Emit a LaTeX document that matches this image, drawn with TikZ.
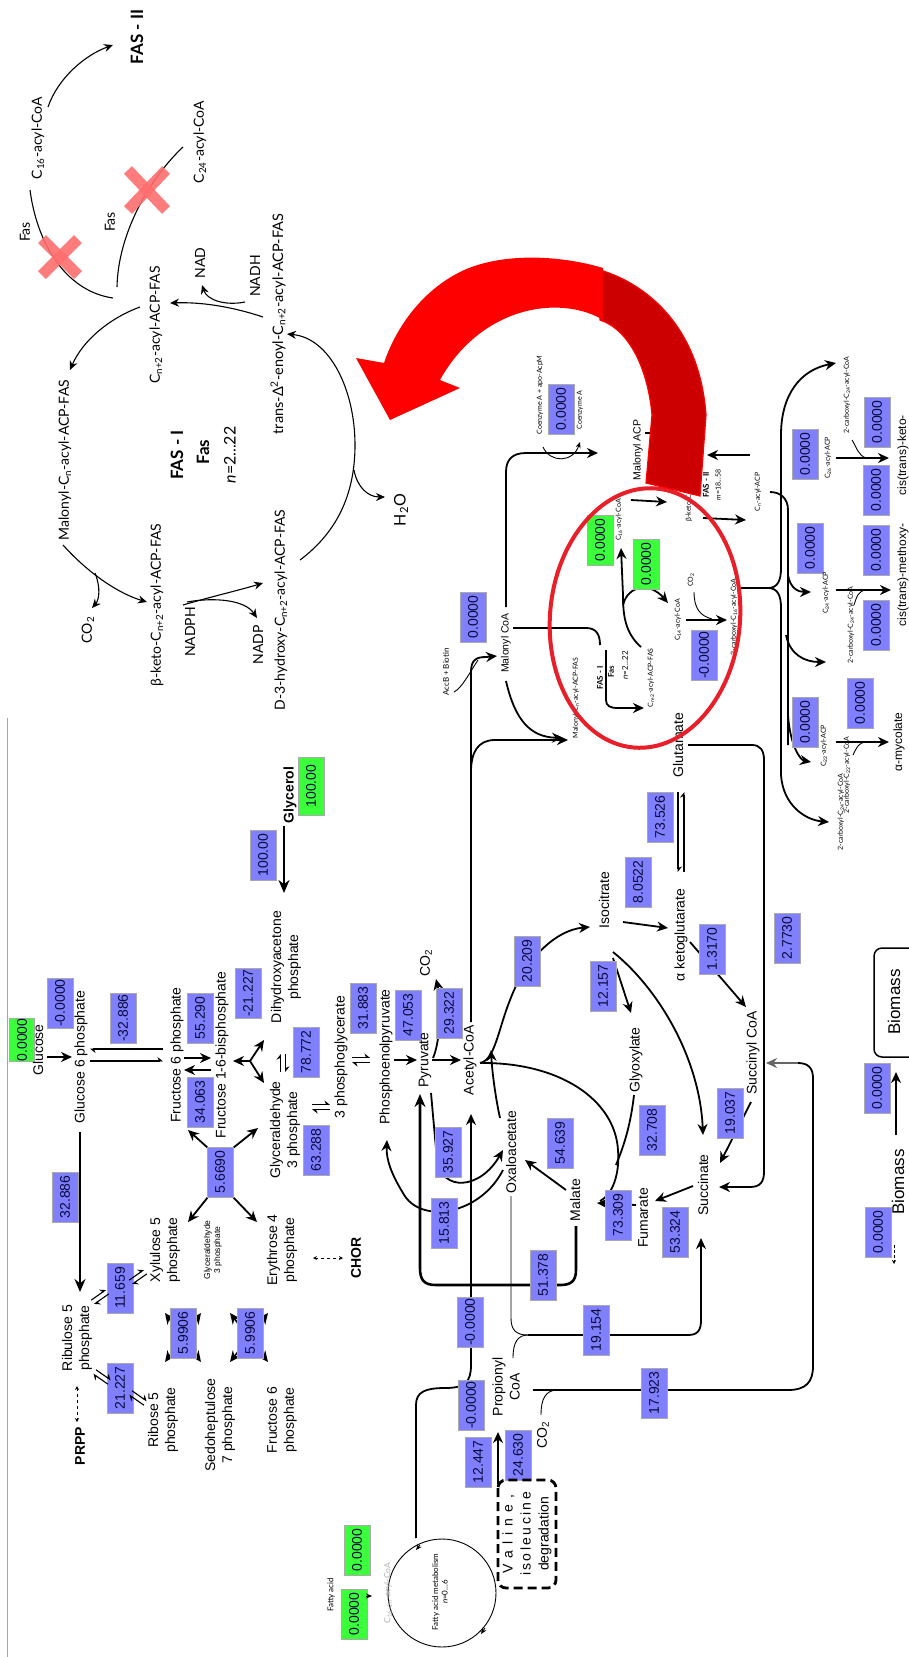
\documentclass[tikz,border=0pt]{standalone}
\usepackage{fontspec}
\setmainfont{Liberation Sans}
\newfontfamily\fasfont{Lato}
\usetikzlibrary{arrows.meta}
\definecolor{boxblue}{RGB}{128,128,255}
\definecolor{boxgreen}{RGB}{60,255,60}
\definecolor{boxedge}{RGB}{170,170,170}
\definecolor{numtxt}{RGB}{10,10,60}
\definecolor{xred}{RGB}{255,110,110}
\definecolor{ellred}{RGB}{232,30,40}
\definecolor{arrred}{RGB}{255,0,0}
\definecolor{arrdark}{RGB}{204,0,0}
\newcommand{\fsz}[2]{\fontsize{#1}{#2}\selectfont}
\pgfdeclarelayer{back}\pgfdeclarelayer{front}
\pgfsetlayers{back,main,front}
\newcommand{\eqv}[3]{\begin{scope}[shift={(#1,#2)},rotate=#3]
 \draw[hp] (-9,-2.5) -- (9,-2.5); \draw[hp] (9,2.5) -- (-9,2.5); \end{scope}}
\begin{document}
\begin{tikzpicture}[x=1pt,y=-1pt,
 lbl/.style={rotate=90,inner sep=0pt,align=center,font=\fsz{14}{17}},
 fas/.style={rotate=90,inner sep=0pt,align=center,font=\fasfont\fsz{14}{17}},
 sm/.style={rotate=90,inner sep=0pt,align=center,font=\fasfont\fsz{7}{8}},
 num/.style={rotate=90,draw=boxedge,fill=boxblue,line width=0.8pt,inner sep=0pt,minimum width=50pt,minimum height=26pt,font=\fsz{14}{16},text=numtxt},
 grn/.style={num,fill=boxgreen},
 fl/.style={line width=1.1pt},
 fa/.style={fl,-{Stealth[length=9pt,width=8pt]}},
 ml/.style={line width=1.8pt},
 ma/.style={ml,-{Stealth[length=11pt,width=10pt]}},
 tl/.style={line width=2.6pt},
 ta/.style={tl,-{Stealth[length=13pt,width=11pt]}},
 sl/.style={line width=0.9pt},
 sa/.style={sl,-{Stealth[length=6pt,width=5pt]}},
 hp/.style={line width=1.1pt,-{Stealth[harpoon,length=5pt,width=8pt]}},
 xa/.style={line width=1.6pt,{Stealth[length=11pt,width=10pt]}-{Stealth[length=11pt,width=10pt]}},
 xmark/.style={xred,line width=11pt,opacity=0.9},
]
\useasboundingbox (0,0) rectangle (909,1657);
\begin{pgfonlayer}{back}
\fill[white] (0,0) rectangle (909,1657);
\end{pgfonlayer}

% ===== FAS cycle labels =====
\node[fas,font=\fasfont\bfseries\fsz{17}{20}] (fas2) at (137,37) {FAS - II};
\node[fas] (c16) at (38,138) {C\textsubscript{16}-acyl-CoA};
\node[fas] (c24) at (200,142) {C\textsubscript{24}-acyl-CoA};
\node[fas] (fasa) at (25,232) {Fas};
\node[fas] (fasb) at (110,222) {Fas};
\node[fas] (cn2) at (156,325) {C\textsubscript{n+2}-acyl-ACP-FAS};
\node[fas] (nad) at (200,263) {NAD};
\node[fas] (nadh) at (255,276) {NADH};
\node[fas,font=\fasfont\fsz{14.5}{17}] (trans) at (278,324) {trans-Δ\textsuperscript{2}-enoyl-C\textsubscript{n+2}-acyl-ACP-FAS};
\node[fas] (malfas) at (65,460) {Malonyl-C\textsubscript{n}-acyl-ACP-FAS};
\node[fas,font=\fasfont\bfseries\fsz{17}{20}] (fas1t) at (177,455) {FAS - I};
\node[fas,font=\fasfont\bfseries\fsz{17}{20}] (fas1f) at (203,452) {Fas};
\node[fas,font=\fasfont\fsz{16}{19}] (fas1n) at (230,455) {\textit{n}=2...22};
\node[fas] (co2a) at (88,630) {CO\textsubscript{2}};
\node[fas] (bketo) at (157,605) {β-keto-C\textsubscript{n+2}-acyl-ACP-FAS};
\node[fas] (nadph) at (190,632) {NADPH};
\node[fas] (nadp) at (258,645) {NADP};
\node[fas] (d3h) at (281,610) {D-3-hydroxy-C\textsubscript{n+2}-acyl-ACP-FAS};
\node[fas,font=\fasfont\fsz{16}{19}] (h2o) at (401,510) {H\textsubscript{2}O};

\begin{pgfonlayer}{back}
\draw[fa] (48,107) .. controls (58,78) and (85,55) .. (113,45);
\draw[fl] (30,190) .. controls (38,250) and (70,292) .. (113,298);
\draw[fl] (183,147) .. controls (148,180) and (118,235) .. (117,287);
\draw[fa] (263,317) .. controls (230,306) and (200,302) .. (170,303);
\draw[fa] (245,302) .. controls (225,306) and (207,300) .. (202,285);
\draw[fa] (140,307) .. controls (110,318) and (83,340) .. (70,370);
\draw[fa] (63,545) .. controls (90,575) and (120,594) .. (147,602);
\draw[fa] (95,573) .. controls (101,588) and (99,600) .. (92,608);
\draw[fa] (183,605) .. controls (210,597) and (240,590) .. (263,583);
\draw[fa] (187,602) .. controls (215,597) and (245,600) .. (257,618);
\draw[fa] (300,560) .. controls (340,530) and (355,490) .. (355,445) .. controls (355,390) and (330,338) .. (287,334);
\draw[fa] (354,470) .. controls (357,487) and (368,497) .. (385,497);
\draw[gray!70,line width=1pt] (7,718) -- (7,1657);
\end{pgfonlayer}
\begin{pgfonlayer}{front}
\draw[xmark] (42,239) -- (78,275); \draw[xmark] (78,239) -- (42,275);
\draw[xmark] (128,170) -- (166,210); \draw[xmark] (166,170) -- (128,210);
\end{pgfonlayer}

% ===== Glycolysis =====
\node[grn,minimum width=42pt,minimum height=25pt] (glcv) at (22,1040) {0.0000};
\node[lbl] (glc) at (38,1050) {Glucose};
\node[lbl] (g6p) at (81,1057) {Glucose 6 phosphate};
\node[num] (v01) at (60,1003) {-0.0000};
\node[num] (v02) at (123,1018) {-32.886};
\node[lbl] (f6p) at (177,1055) {Fructose 6 phosphate};
\node[num] (v03) at (200,1018) {55.290};
\node[num] (v04) at (200,1102) {34.063};
\node[lbl] (fbp) at (222,1055) {Fructose 1-6-bisphosphate};
\node[num] (v05) at (248,993) {-21.227};
\node[lbl] (dhap) at (286,967) {Dihydroxyacetone\\phosphate};
\node[num] (v06) at (263,855) {100.00};
\node[lbl,font=\bfseries\fsz{14}{17}] (glyc) at (290,795) {Glycerol};
\node[grn,minimum width=58pt] (glycv) at (311,786) {100.00};
\node[num] (v07) at (306,1052) {78.772};
\node[lbl] (g3p) at (285,1130) {Glyceraldehyde\\3 phosphate};
\node[num] (v08) at (316,1150) {63.288};
\node[lbl] (pg3) at (341,1057) {3 phosphoglycerate};
\node[num] (v09) at (363,1008) {31.883};
\node[lbl] (pep) at (386,1057) {Phosphoenolpyruvate};
\node[num] (v10) at (408,1015) {47.053};
\node[lbl] (pyr) at (425,1060) {Pyruvate};
\node[num] (v11) at (449,1013) {29.322};
\node[lbl] (co2b) at (426,963) {CO\textsubscript{2}};
\node[lbl] (accoa) at (470,1060) {Acetyl-CoA};
\node[lbl,font=\bfseries\fsz{14}{17}] (chor) at (356,1258) {CHOR};

\begin{pgfonlayer}{back}
\draw[ma] (47,1057) -- (72,1057);
\draw[hp] (163,1049) -- (90,1049);
\draw[hp] (90,1061) -- (163,1061);
\draw[ma] (184,1058) -- (211,1058);
\draw[ma] (211,1070) -- (184,1070);
\draw[ma] (250,1061) -- (233,1061);
\draw[ma] (250,1061) -- (264,1040);
\draw[ma] (250,1061) -- (264,1083);
\draw[ta] (284,826) -- (284,893);
\draw[ma] (394,1060) -- (417,1060);
\draw[ma] (432,1060) -- (461,1060);
\draw[ma] (433,1058) .. controls (441,1040) and (441,1000) .. (436,979);
\draw[sl,dashed,{Stealth[length=4pt,width=4pt]}-{Stealth[length=4pt,width=4pt]}] (313,1258) -- (343,1258);
\end{pgfonlayer}
\eqv{283}{1063}{90}
\eqv{321}{1107}{0}
\eqv{361}{1060}{0}

% ===== PPP =====
\node[lbl] (ru5p) at (77,1338) {Ribulose 5\\phosphate};
\node[lbl,font=\bfseries\fsz{14}{17}] (prpp) at (80,1446) {PRPP};
\node[num] (v12) at (120,1288) {11.659};
\node[num] (v13) at (120,1388) {21.227};
\node[lbl] (xu5p) at (165,1250) {Xylulose 5\\phosphate};
\node[lbl,font=\fsz{8.5}{10}] (g3ps) at (213,1250) {Glyceraldehyde\\3 phosphate};
\node[lbl] (e4p) at (282,1250) {Erythrose 4\\phosphate};
\node[lbl] (r5p) at (163,1420) {Ribose 5\\phosphate};
\node[lbl] (s7p) at (220,1425) {Sedoheptulose\\7 phosphate};
\node[lbl] (f6pb) at (282,1420) {Fructose 6\\phosphate};
\node[num] (v14) at (65,1197) {32.886};
\node[num] (v15) at (220,1172) {5.6690};
\begin{pgfonlayer}{back}
\draw[ta] (80,1132) -- (80,1292);
\draw[sl,dashed,{Stealth[length=4pt,width=4pt]}-{Stealth[length=4pt,width=4pt]}] (77,1386) -- (77,1422);
\draw[xa] (165,1313) -- (201,1362);
\draw[xa] (201,1313) -- (165,1362);
\draw[xa] (230,1313) -- (268,1362);
\draw[xa] (268,1313) -- (230,1362);
\draw[ma] (208,1148) -- (188,1130);
\draw[ma] (233,1148) -- (258,1128);
\draw[ma] (208,1197) -- (188,1222);
\draw[ma] (233,1197) -- (257,1222);
\end{pgfonlayer}
\node[num] (v16) at (183,1333) {5.9906};
\node[num] (v17) at (250,1333) {5.9906};
\eqv{100}{1297}{35}
\eqv{138}{1277}{35}
\eqv{102}{1377}{-35}
\eqv{138}{1398}{-35}

% ===== TCA =====
\node[lbl] (isoc) at (604,900) {Isocitrate};
\node[num] (v18) at (527,961) {20.209};
\node[num] (v19) at (603,986) {12.157};
\node[num] (v20) at (638,882) {8.0522};
\node[lbl] (akg) at (681,935) {α ketoglutarate};
\node[num] (v21) at (712,949) {1.3170};
\node[lbl] (succoa) at (753,1053) {Succinyl CoA};
\node[num] (v22) at (787,938) {2.7730};
\node[lbl] (glyox) at (636,1060) {Glyoxylate};
\node[num] (v23) at (652,1130) {32.708};
\node[num] (v24) at (730,1113) {19.037};
\node[lbl] (succ) at (703,1185) {Succinate};
\node[lbl] (fum) at (643,1218) {Fumarate};
\node[num] (v25) at (618,1215) {73.309};
\node[num] (v26) at (675,1232) {53.324};
\node[lbl] (mal) at (575,1200) {Malate};
\node[num] (v27) at (560,1143) {54.639};
\node[lbl] (oaa) at (511,1152) {Oxaloacetate};
\node[num] (v28) at (448,1152) {35.927};
\node[num] (v29) at (444,1223) {15.813};
\node[num] (v30) at (543,1275) {51.378};
\node[lbl] (glu) at (678,745) {Glutamate};
\node[num] (v31) at (660,817) {73.526};

\begin{pgfonlayer}{back}
\draw[ma] (480,1063) .. controls (495,1060) and (498,1030) .. (510,1000) .. controls (525,960) and (555,930) .. (590,927);
\draw[ma] (500,1118) .. controls (495,1095) and (492,1070) .. (491,1050);
\draw[ma] (623,922) -- (668,928);
\draw[ma] (690,942) -- (746,1007);
\draw[ma] (613,958) -- (631,1013);
\draw[ma] (613,952) .. controls (660,990) and (700,1060) .. (703,1135);
\draw[ma] (751,1102) -- (720,1163);
\draw[ma] (693,1186) -- (655,1201);
\draw[ma] (566,1190) -- (525,1160);
\draw[ma] (636,1205) -- (597,1203);
\draw[ml] (480,1063) .. controls (560,1062) and (615,1100) .. (618,1150) .. controls (620,1175) and (612,1195) .. (600,1201);
\draw[ml] (634,1095) .. controls (630,1130) and (622,1150) .. (616,1165);
\draw[ma] (431,1093) -- (437,1160) .. controls (442,1192) and (480,1190) .. (503,1150);
\draw[ma] (503,1170) .. controls (480,1215) and (420,1225) .. (403,1193) .. controls (392,1175) and (386,1160) .. (387,1140);
% malic enzyme loop
\draw[tl,-{Stealth[length=13pt,width=11pt]}] (576,1226) -- (576,1270) .. controls (576,1282) and (570,1285) .. (560,1285) -- (436,1285) .. controls (424,1285) and (420,1280) .. (420,1268) -- (420,1094);
% glutamate
\draw[hp] (678,792) -- (678,872);
\draw[hp] (684,872) -- (684,792);
\draw[ma] (688,745) -- (752,745) .. controls (760,745) and (764,750) .. (764,760) -- (764,1172) .. controls (764,1182) and (760,1187) .. (750,1187) -- (719,1187);
% line from 17.923 to succinyl CoA
\draw[tl] (533,1390) -- (790,1390);
\draw[ml] (788,1390) .. controls (806,1390) and (813,1382) .. (813,1366) -- (813,1078) .. controls (813,1068) and (808,1063) .. (798,1063);
\draw[ml,gray!80!black,-{Stealth[length=11pt,width=10pt]}] (798,1063) -- (766,1063);
\draw[sl] (541,1415) .. controls (541,1398) and (546,1391) .. (556,1390);
% OAA / propionyl to succinate
\draw[sl] (511,1196) -- (511,1318) .. controls (511,1330) and (516,1335) .. (528,1335);
\draw[sl] (513,1358) .. controls (513,1342) and (518,1335) .. (528,1335);
\draw[ma] (528,1335) -- (688,1335) .. controls (698,1335) and (701,1330) .. (701,1320) -- (701,1238);
% acetyl-CoA from fatty acid
\draw[ml,-{Stealth[length=11pt,width=10pt]}] (416,1538) -- (416,1405) .. controls (416,1392) and (425,1388) .. (445,1388) .. controls (465,1388) and (471,1382) .. (471,1365) -- (471,1114);
% valine
\draw[ma] (498,1484) -- (498,1432);
\end{pgfonlayer}
\node[num] (v32) at (470,1322) {-0.0000};
\node[num] (v33) at (471,1405) {-0.0000};
\node[lbl] (prop) at (506,1387) {Propionyl\\CoA};
\node[num] (v34) at (596,1330) {19.154};
\node[num] (v35) at (654,1393) {17.923};
\node[lbl] (co2c) at (543,1435) {CO\textsubscript{2}};
\node[num] (v36) at (478,1462) {12.447};
\node[num] (v37) at (518,1455) {24.630};
\node[rotate=90,draw,rounded corners=8pt,line width=2.8pt,dash pattern=on 9pt off 5pt,minimum width=108pt,minimum height=58pt,inner sep=2pt,align=center,font=\fsz{14}{18}] (val) at (527,1534)
 {V\hspace{6pt}a\hspace{6pt}l\hspace{6pt}i\hspace{6pt}n\hspace{6pt}e\hspace{6pt},\\i\hspace{2.4pt}s\hspace{2.4pt}o\hspace{2.4pt}l\hspace{2.4pt}e\hspace{2.4pt}u\hspace{2.4pt}c\hspace{2.4pt}i\hspace{2.4pt}n\hspace{2.4pt}e\\degradation};

% fatty acid circle
\draw[sl] (442,1593) circle [radius=54pt];
\draw[sa] (420,1545) -- (416,1550);
\draw[sa] (485,1628) -- (481,1634);
\node[sm,font=\fasfont\fsz{8}{9.5}] (fam) at (440,1592) {Fatty acid metabolism\\\textit{n}=0...6};
\node[sm,font=\fasfont\fsz{8.5}{10},text=gray!60] (cacyl) at (388,1593) {C\textsubscript{16+2n}-acyl-CoA};
\node[sm,font=\fasfont\fsz{8}{9.5}] (fattyacid) at (331,1595) {Fatty acid};
\node[grn] (fav1) at (354,1614) {0.0000};
\node[grn] (fav2) at (357,1550) {0.0000};
\draw[sa] (366,1596) -- (372,1596);

% ===== Biomass =====
\draw[line width=1.5pt,rounded corners=8pt] (874,948) rectangle (930,1057);
\node[lbl,font=\fsz{17}{20}] (bio1) at (894,1002) {Biomass};
\node[num] (v38) at (877,1088) {0.0000};
\draw[ma] (896,1135) -- (896,1072);
\node[lbl,font=\fsz{17}{20}] (bio2) at (898,1182) {Biomass};
\node[num] (v39) at (878,1232) {0.0000};
\draw[sl,densely dashed,-{Stealth[length=4pt,width=4pt]}] (894,1245) -- (894,1264);

% ===== Malonyl / mycolic =====
\node[lbl,font=\fsz{10.5}{12}] (malcoa) at (506,643) {Malonyl CoA};
\node[num] (v40) at (473,617) {0.0000};
\node[sm,font=\fasfont\fsz{8}{9}] (accb) at (446,672) {AccB + Biotin};
\node[sm] (coaapo) at (540,395) {Coenzyme A + apo-AcpM};
\node[num] (v41) at (561,409) {0.0000};
\node[sm] (coa) at (580,410) {Coenzyme A};
\node[lbl,font=\fsz{10.5}{12}] (malacp) at (638,450) {Malonyl ACP};
\node[sm] (malfas2) at (576,698) {Malonyl-C\textsubscript{n}-acyl-ACP-FAS};
\node[sm,font=\fasfont\bfseries\fsz{8}{9}] (fasIs) at (600,678) {FAS - I};
\node[sm,font=\fasfont\bfseries\fsz{8}{9}] (fasFs) at (611,672) {Fas};
\node[sm,font=\fasfont\fsz{8}{9}] (fasNs) at (625,665) {\textit{n}=2...22};
\node[sm] (cn2s) at (651,678) {C\textsubscript{n+2}-acyl-ACP-FAS};
\node[sm] (c16s) at (619,520) {C\textsubscript{16}-acyl-CoA};
\node[grn] (g1) at (600,540) {0.0000};
\node[grn] (g2) at (646,564) {0.0000};
\node[sm] (c14s) at (678,620) {C\textsubscript{14}-acyl-CoA};
\node[sm] (co2s) at (691,580) {CO\textsubscript{2}};
\node[num] (v42) at (704,655) {-0.0000};
\node[sm] (c2carb) at (734,617) {2-carboxyl-C\textsubscript{16}-acyl-CoA};
\node[sm,font=\fasfont\bfseries\fsz{8}{9}] (fasIIs) at (706,485) {FAS - II};
\node[sm] (mrange) at (718,485) {\textit{m}=18...58};
\node[sm] (bks) at (689,508) {β-keto-C};
\node[sm] (cnacp) at (758,492) {C\textsubscript{n}-acyl-ACP};

\begin{pgfonlayer}{back}
\draw[ml] (471,1022) -- (471,672) .. controls (471,660) and (476,657) .. (486,657);
\draw[ma] (486,657) -- (497,656);
\draw[sl] (454,692) .. controls (462,688) and (470,672) .. (478,660);
\draw[ma] (471,772) .. controls (471,752) and (478,740) .. (495,740) -- (568,740);
\draw[ma] (506,681) .. controls (515,720) and (530,737) .. (563,738);
\draw[ma] (506,607) -- (506,472) .. controls (506,460) and (512,453) .. (526,453) -- (598,453);
\draw[sa] (543,447) .. controls (550,463) and (573,463) .. (580,442);
\draw[ml] (513,628) -- (586,628) .. controls (596,628) and (600,634) .. (600,645);
\draw[ma] (606,650) -- (606,700) .. controls (606,706) and (610,708) .. (618,708) -- (644,708);
\draw[ma] (641,647) .. controls (625,633) and (623,615) .. (623,595) -- (621,548);
\draw[ma] (623,605) .. controls (628,585) and (650,582) .. (668,603);
\draw[ma] (631,500) -- (667,502);
\draw[ml] (645,433) -- (665,433);
\draw[ma] (750,455) -- (707,455);
\draw[ma] (703,518) -- (746,520);
\draw[sl] (694,592) .. controls (694,608) and (700,616) .. (712,619);
\draw[ma] (686,620) -- (727,620);
\draw[ml] (739,588) -- (768,588);
\draw[ma] (768,588) .. controls (778,588) and (781,580) .. (781,568) -- (781,435) .. controls (781,395) and (800,370) .. (836,363);
\draw[ml] (768,588) .. controls (778,588) and (781,596) .. (781,608) -- (781,775);
\draw[ma] (781,775) .. controls (783,805) and (805,820) .. (829,822);
\draw[ml] (770,492) .. controls (780,492) and (788,498) .. (788,510) -- (788,745);
\draw[ma] (788,575) .. controls (790,588) and (798,592) .. (811,592);
\draw[ma] (786,635) .. controls (790,655) and (805,662) .. (826,662);
\draw[ma] (788,715) .. controls (790,745) and (800,760) .. (811,762);
\draw[ma] (836,458) -- (889,458);
\draw[sl] (852,440) .. controls (857,448) and (858,455) .. (866,458);
\draw[ma] (836,590) -- (891,590);
\draw[sl] (854,605) .. controls (857,596) and (858,591) .. (866,590);
\draw[ma] (836,742) -- (889,742);
\draw[sl] (853,755) .. controls (857,747) and (858,743) .. (866,742);
\end{pgfonlayer}
\node[num] (v43) at (805,454) {0.0000};
\node[sm] (c26acp) at (828,458) {C\textsubscript{26}-acyl-ACP};
\node[sm] (c2c26) at (847,395) {2-carboxyl-C\textsubscript{24}-acyl-CoA};
\node[num] (v44) at (877,422) {0.0000};
\node[lbl,font=\fsz{12}{14}] (keto) at (903,455) {cis(trans)-keto-};
\node[num] (v45) at (876,490) {0.0000};
\node[num] (v46) at (810,548) {0.0000};
\node[sm] (c24acp) at (826,593) {C\textsubscript{24}-acyl-ACP};
\node[num] (v47) at (876,550) {0.0000};
\node[lbl,font=\fsz{12}{14}] (methoxy) at (903,575) {cis(trans)-methoxy-};
\node[sm] (c2c24) at (851,625) {2-carboxyl-C\textsubscript{24}-acyl-CoA};
\node[num] (v48) at (876,625) {0.0000};
\node[num] (v49) at (860,703) {0.0000};
\node[num] (v50) at (805,722) {0.0000};
\node[sm] (c22acp) at (824,746) {C\textsubscript{22}-acyl-ACP};
\node[sm] (c2c22) at (847,775) {2-carboxyl-C\textsubscript{22}-acyl-CoA};
\node[lbl,font=\fsz{12}{14}] (amyc) at (899,742) {α-mycolate};
\node[sm] (c2c22b) at (841,812) {2-carboxyl-C\textsubscript{24}-acyl-CoA};

% ===== red ellipse & big arrow =====
\begin{pgfonlayer}{front}
\draw[ellred,line width=4pt,rotate around={-5:(645,618)}] (645,618) ellipse [x radius=95pt,y radius=130pt];
\fill[arrdark,draw=arrred,line width=1.2pt] (600,270) .. controls (650,285) and (700,330) .. (706,415) -- (700,496) -- (646,483) -- (652,415) .. controls (648,370) and (630,330) .. (600,320) -- cycle;
\fill[arrred] (603,268) .. controls (560,255) and (500,252) .. (460,272) .. controls (420,292) and (395,330) .. (384,363) -- (356,358) -- (390,420) -- (460,388) -- (440,380) .. controls (462,340) and (500,312) .. (545,308) .. controls (570,306) and (590,312) .. (603,320) -- cycle;
\end{pgfonlayer}
\end{tikzpicture}
\end{document}
